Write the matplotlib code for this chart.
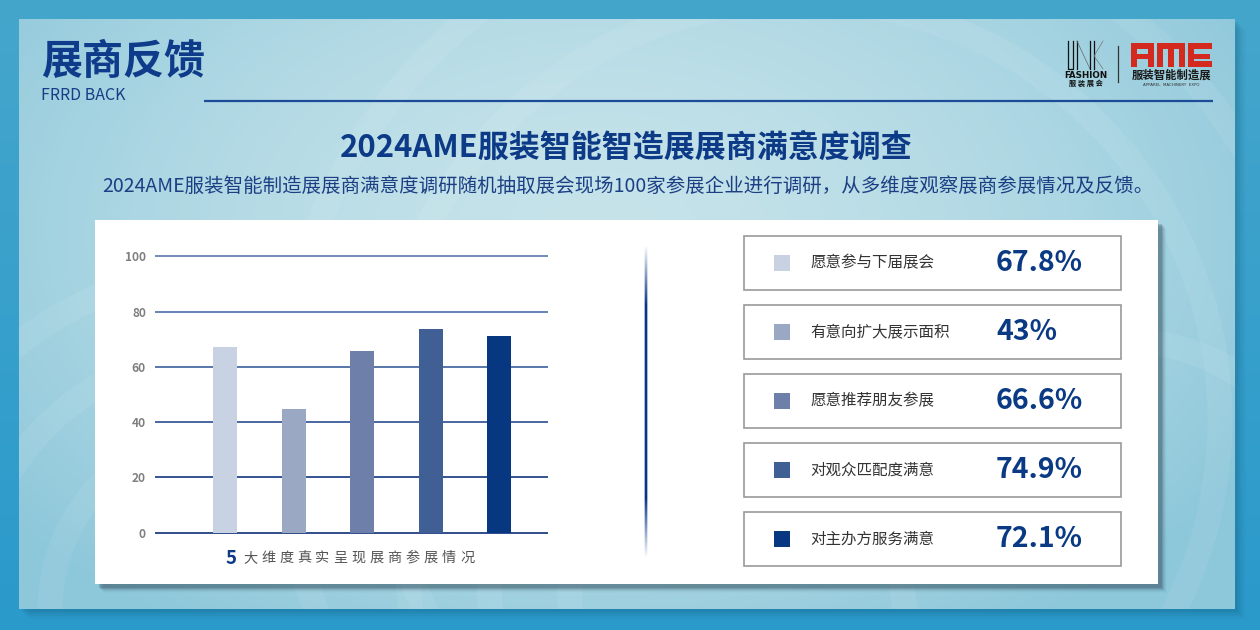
import numpy as np
import matplotlib
matplotlib.use('Agg')
import matplotlib.pyplot as plt
from matplotlib.patches import Rectangle, Circle
from matplotlib.colors import to_rgb

plt.rcParams['font.family'] = ['Noto Sans CJK SC', 'DejaVu Sans']

# ---------------- data ----------------
categories = ['愿意参与下届展会', '有意向扩大展示面积', '愿意推荐朋友参展', '对观众匹配度满意', '对主办方服务满意']
bar_values = [67.2, 44.8, 65.7, 73.7, 71.2]
pct_labels = ['67.8%', '43%', '66.6%', '74.9%', '72.1%']
bar_colors = ['#c8d2e2', '#9aa8c4', '#6e80aa', '#405f94', '#073780']
y_ticks = [0, 20, 40, 60, 80, 100]
grid_colors = ['#1f3f82', '#24458a', '#3a5c98', '#4a6ba3', '#5a79ad', '#6482b3']

title_main = '展商反馈'
title_en = 'FRRD BACK'
headline = '2024AME服装智能智造展展商满意度调查'
subline = '2024AME服装智能制造展展商满意度调研随机抽取展会现场100家参展企业进行调研，从多维度观察展商参展情况及反馈。'
caption_num = '5'
caption_txt = '大维度真实呈现展商参展情况'

W, H = 1260, 630
fig = plt.figure(figsize=(12.6, 6.3), dpi=100)
bg = fig.add_axes([0, 0, 1, 1])
bg.set_xlim(0, W)
bg.set_ylim(H, 0)
bg.axis('off')


def lerp(c1, c2, t):
    c1 = np.array(to_rgb(c1)); c2 = np.array(to_rgb(c2))
    t = np.clip(t, 0, 1)[..., None]
    return c1 * (1 - t) + c2 * t

# outer background
yy, xx = np.mgrid[0:H, 0:W]
outer = lerp('#45a6cc', '#2a9acb', yy / H)
bg.imshow(outer, extent=(0, W, H, 0), zorder=0, aspect='auto')

# inner panel shadow
for i, a in enumerate([0.10, 0.08, 0.06, 0.04, 0.03]):
    bg.add_patch(Rectangle((19 + 3 + i * 2, 19 + 3 + i * 2), 1216, 590,
                           facecolor='#10506c', alpha=a, lw=0, zorder=1))

# inner panel gradient
ix0, iy0, ix1, iy1 = 19, 19, 1235, 609
gy, gx = np.mgrid[iy0:iy1, ix0:ix1]
d = np.sqrt(((gx - 600) / 760.0) ** 2 + ((gy - 230) / 480.0) ** 2)
inner = lerp('#c6e3ea', '#8cc7da', d ** 1.6)
bg.imshow(inner, extent=(ix0, ix1, iy1, iy0), zorder=2, aspect='auto')

# faint decorative rings
ring_specs = [(230, 610, 180), (230, 610, 260), (230, 610, 340),
              (800, 420, 420), (800, 420, 520), (1120, 560, 220)]
for cx, cy, r in ring_specs:
    c = Circle((cx, cy), r, facecolor='none', edgecolor='white', lw=18, alpha=0.07, zorder=3)
    bg.add_patch(c)
    c.set_clip_path(Rectangle((ix0, iy0), ix1 - ix0, iy1 - iy0, transform=bg.transData))

# header
bg.text(41, 62, title_main, fontsize=29.5, fontweight='bold', color='#0e3b8a',
        ha='left', va='center', zorder=5)
bg.text(41, 96, title_en, fontsize=11.5, color='#173d86', ha='left', va='center', zorder=5)
bg.plot([204, 1213], [101, 101], color='#1c4b98', lw=1.6, zorder=5, solid_capstyle='butt')

# logos (UNK FASHION)
k = '#111111'
bg.plot([1067.5, 1067.5, 1073, 1073], [41, 69, 69, 41], color=k, lw=0.9, zorder=5)
bg.plot([1077, 1077], [41, 69], color=k, lw=0.9, zorder=5)
bg.plot([1077, 1090], [41, 69], color='#666666', lw=0.5, zorder=5)
bg.plot([1090, 1090], [41, 69], color=k, lw=0.9, zorder=5)
bg.plot([1093.5, 1093.5], [41, 69], color=k, lw=0.9, zorder=5)
bg.plot([1103, 1094, 1103], [41, 56, 69], color='#777777', lw=0.5, zorder=5)
bg.text(1086, 75.5, 'FASHION', fontsize=6.3, fontweight='bold', color=k,
        ha='center', va='center', family='DejaVu Sans', zorder=5)
bg.text(1086, 83.5, '服 装 展 会', fontsize=5.2, fontweight='bold', color=k,
        ha='center', va='center', zorder=5)
bg.plot([1118, 1118], [46, 82], color='#333333', lw=0.9, zorder=5)

# AME block letters (logo)
red = '#d3291f'
ame_blocks = [
    # A
    (1131, 43, 23, 6), (1131, 43, 6, 24), (1148, 43, 6, 24), (1131, 53.5, 23, 5),
    # M
    (1157, 43, 28, 6), (1157, 43, 6, 24), (1168, 43, 6, 24), (1179, 43, 6, 24),
    # E
    (1188, 43, 24, 6), (1188, 43, 6, 24), (1188, 53.5, 22, 5), (1188, 61, 24, 6),
]
for bx, by, bw, bh in ame_blocks:
    bg.add_patch(Rectangle((bx, by), bw, bh, facecolor=red, lw=0, zorder=5))
bg.text(1171.5, 75, '服装智能制造展', fontsize=8.2, fontweight='bold', color='#1a1a1a',
        ha='center', va='center', zorder=5)
bg.text(1171.5, 85.5, 'APPAREL  MACHINERY  EXPO', fontsize=2.9, color='#333333',
        ha='center', va='center', family='DejaVu Sans', zorder=5)

# headline + subline
bg.text(626, 149, headline, fontsize=22.3, fontweight='heavy', color='#0d3a86',
        ha='center', va='center', zorder=5)
bg.text(628, 186, subline, fontsize=14.0, color='#1c3f84',
        ha='center', va='center', zorder=5)

# white panel with shadow
px0, py0, px1, py1 = 95, 220, 1158, 584
for i, a in enumerate([0.22, 0.16, 0.11, 0.07, 0.04, 0.02]):
    bg.add_patch(Rectangle((px0 + 4 + i, py0 + 4 + i), px1 - px0, py1 - py0,
                           facecolor='#2c4654', alpha=a, lw=0, zorder=5))
bg.add_patch(Rectangle((px0, py0), px1 - px0, py1 - py0, facecolor='white', lw=0, zorder=6))

# tapered vertical divider (alpha-graded strip)
vy0, vy1 = 245, 558
n = 400
tt = np.linspace(0, 1, n)
dist = np.minimum(tt, 1 - tt) * (vy1 - vy0)
alph = np.clip(dist / 60.0, 0, 1)
wprof = np.array([0.35, 1.0, 1.0, 0.35])
strip = np.zeros((n, len(wprof), 4))
strip[..., 0], strip[..., 1], strip[..., 2] = 0.03, 0.21, 0.53
strip[..., 3] = alph[:, None] * wprof[None, :]
bg.imshow(strip, extent=(643.5, 647.5, vy1, vy0), zorder=7, aspect='auto',
          interpolation='nearest')

# legend boxes
for i, (lab, pct, col) in enumerate(zip(categories, pct_labels, bar_colors)):
    top = 236 + 69 * i
    bg.add_patch(Rectangle((744, top), 377, 54, facecolor='white', edgecolor='#9a9a9a',
                           lw=1.2, zorder=7))
    cy = top + 27
    bg.add_patch(Rectangle((774, cy - 8), 16, 16, facecolor=col, lw=0, zorder=8))
    bg.text(810, cy, lab, fontsize=11.2, color='#333333', ha='left', va='center', zorder=8)
    bg.text(996, cy, pct, fontsize=20.5, fontweight='heavy', color='#0b3a84',
            ha='left', va='center', zorder=8)

# caption below chart
bg.text(226, 558, caption_num, fontsize=13.5, fontweight='bold', color='#0d3a86',
        ha='left', va='center', zorder=8)
pitch = (478 - 243) / len(caption_txt)
for j, ch in enumerate(caption_txt):
    bg.text(243 + pitch * (j + 0.5) - 2, 558, ch, fontsize=10.2, color='#555555',
            ha='center', va='center', zorder=8)

# ---------------- bar chart ----------------
y0_px, y100_px = 532.7, 256.3
ppu = (y0_px - y100_px) / 100.0
ymin, ymax = -3, 103
bot_px = y0_px - ymin * ppu
top_px = y100_px - (ymax - 100) * ppu
ax_l, ax_r = 155, 548
ax = fig.add_axes([ax_l / W, 1 - bot_px / H, (ax_r - ax_l) / W, (bot_px - top_px) / H])
ax.set_facecolor('none')
ax.set_zorder(10)
x = np.arange(len(bar_values))
ax.set_xlim(-1.022, 4.715)
ax.set_ylim(ymin, ymax)
for t, c in zip(y_ticks, grid_colors):
    ax.axhline(t, color=c, lw=1.3, zorder=1)
ax.bar(x, bar_values, width=0.35, color=bar_colors, zorder=2)
ax.set_yticks(y_ticks)
ax.set_yticklabels([str(t) for t in y_ticks], fontsize=8.6, fontweight='bold', color='#7f7f7f')
ax.tick_params(axis='y', length=0, pad=6.5)
ax.set_xticks([])
for s in ax.spines.values():
    s.set_visible(False)

fig.savefig('out.png', dpi=100)
